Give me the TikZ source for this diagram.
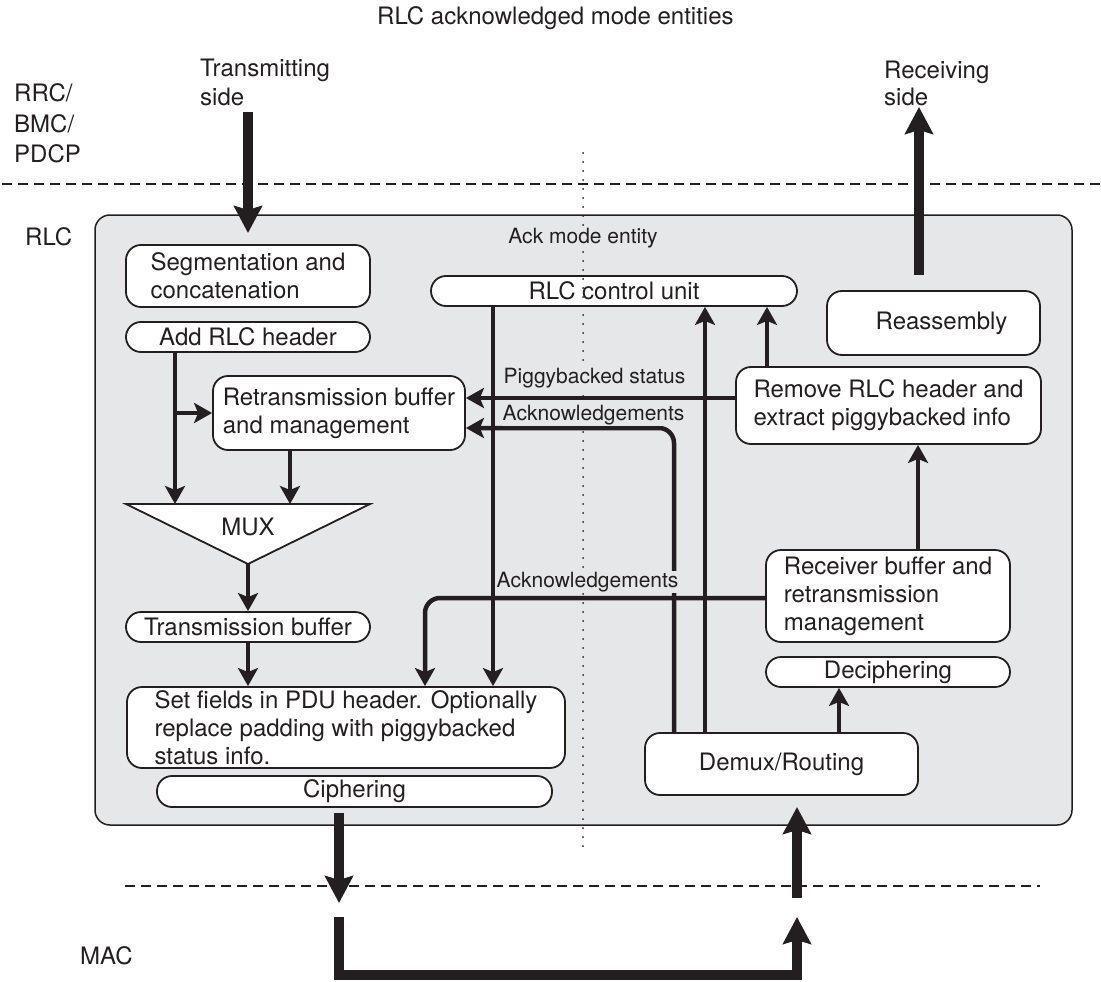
\documentclass[tikz,border=0pt]{standalone}
\usepackage{fontspec}
\setmainfont{TeX Gyre Heros}
\usetikzlibrary{arrows.meta}
\definecolor{ink}{HTML}{231F20}
\definecolor{panel}{HTML}{E6E7E8}
\begin{document}
\begin{tikzpicture}[x=1pt,y=-1pt,
  every node/.style={font=\fontsize{24}{28}\selectfont, text=ink},
  box/.style={draw=ink, line width=1.8pt, fill=white, rounded corners=15pt, align=left, inner sep=0pt},
  conn/.style={draw=ink, line width=4.5pt, -{Stealth[length=18pt,width=20pt,inset=4pt]}},
  bigarrow/.style={draw=ink, line width=10pt, line join=miter, -{Stealth[length=27pt,width=28pt,inset=4pt]}},
  lbl/.style={font=\fontsize{21}{25}\selectfont, fill=panel, inner xsep=0.5pt, inner ysep=1pt},
  outer/.style={anchor=base west, inner sep=0pt},
  layerline/.style={draw=ink, line width=1.5pt, dash pattern=on 10pt off 6pt},
]
\useasboundingbox (0,0) rectangle (1101,982);

% layer boundaries
\draw[layerline] (2,184) -- (1101,184);
\draw[layerline] (125,886) -- (1040,886);

% layer and side captions
\node[outer] (title) at (377,25) {RLC acknowledged mode entities};
\node[outer] (tx1) at (200,77) {Transmitting};
\node[outer] (tx2) at (200,106) {side};
\node[outer] (rx1) at (884,78) {Receiving};
\node[outer] (rx2) at (884,106) {side};
\node[outer] (upper1) at (14,102) {RRC/};
\node[outer] (upper2) at (14,132) {BMC/};
\node[outer] (upper3) at (14,162) {PDCP};
\node[outer] (rlclayer) at (25,245) {RLC};
\node[outer] (maclayer) at (80,964) {MAC};

% acknowledged mode entity panel
\node[draw=ink, line width=1.5pt, fill=panel, rounded corners=15pt,
      minimum width=977pt, minimum height=610pt, inner sep=0pt] (rlc) at (583.5,520) {};

% transmitting side blocks
\node[box, minimum width=244pt, minimum height=62pt] (seg) at (248,276) {Segmentation and\\concatenation};
\node[box, minimum width=244pt, minimum height=30pt] (addhdr) at (248,337) {Add RLC header};
\node[box, minimum width=252pt, minimum height=74pt] (retx) at (339,413) {Retransmission buffer\\and management};
\draw[draw=ink, line width=1.8pt, fill=white] (126,504) -- (370,504) -- (248,564) -- cycle;
\node (mux) at (248,527) {MUX};
\node[box, minimum width=244pt, minimum height=30pt] (txbuf) at (248,627) {Transmission buffer};
\node[box, minimum width=438pt, minimum height=81pt] (setf) at (346,727.5)
  {Set fields in PDU header. Optionally\\replace padding with piggybacked\\status info.};
\node[box, minimum width=395pt, minimum height=31pt] (ciph) at (354.5,791.5) {Ciphering};

% control and receiving side blocks
\node[box, minimum width=366pt, minimum height=30pt] (ctrl) at (614,291) {RLC control unit};
\node[box, minimum width=213pt, minimum height=64pt] (reasm) at (933.5,323) {\hspace*{16pt}Reassembly};
\node[box, minimum width=305pt, minimum height=77pt] (remove) at (888.5,405.5) {Remove RLC header and\\extract piggybacked info};
\node[box, minimum width=244pt, minimum height=92pt] (recv) at (888,596) {Receiver buffer and\\retransmission\\management};
\node[box, minimum width=244pt, minimum height=30pt] (deciph) at (888,672) {Deciphering};
\node[box, minimum width=273pt, minimum height=62pt] (demux) at (781.5,764) {Demux/Routing};

% divider between the two sides
\draw[ink, line width=2pt, line cap=round, dash pattern=on 0pt off 9pt] (583,153) -- (583,852);

% reference points for the connectors
\coordinate (muxL) at (175,504);
\coordinate (muxR) at (290,504);
\coordinate (muxTip) at (248,564);
\coordinate (fork) at (175,413);
\coordinate (xCtl) at (493,0);
\coordinate (yPig) at (0,398);
\coordinate (yAck) at (0,428);
\coordinate (ackBend) at (674,428);
\coordinate (xDmx) at (705,0);
\coordinate (xRem) at (767,0);
\coordinate (yAck2) at (0,598);
\coordinate (ackBend2) at (425,598);
\coordinate (xRcv) at (918,0);
\coordinate (xDec) at (839,0);

% internal connectors
\draw[conn] (addhdr.south -| muxL) -- (muxL);
\draw[conn] (fork) -- (retx.west);
\draw[conn] (retx.south -| muxR) -- (muxR);
\draw[conn] (muxTip) -- (txbuf.north);
\draw[conn] (txbuf.south) -- (setf.north -| txbuf.south);
\draw[conn] (ctrl.south -| xCtl) -- (setf.north -| xCtl);
\draw[conn] (remove.west |- yPig) -- (retx.east |- yPig);
\draw[conn, rounded corners=15pt] (demux.north -| ackBend) -- (ackBend) -- (retx.east |- yAck);
\draw[conn] (demux.north -| xDmx) -- (ctrl.south -| xDmx);
\draw[conn] (remove.north -| xRem) -- (ctrl.south -| xRem);
\draw[conn, rounded corners=15pt] (recv.west |- yAck2) -- (ackBend2) -- (setf.north -| ackBend2);
\draw[conn] (recv.north -| xRcv) -- (remove.south -| xRcv);
\draw[conn] (demux.north -| xDec) -- (deciph.south -| xDec);

% data flow to and from the neighbouring layers
\coordinate (txIn) at (248,112);
\coordinate (txEnd) at (248,233);
\coordinate (rxStart) at (919,275);
\coordinate (rxOut) at (919,107);
\coordinate (downA) at (339,813);
\coordinate (downB) at (339,903);
\coordinate (upA) at (797,898);
\coordinate (upB) at (797,807);
\coordinate (loopA) at (339,917);
\coordinate (loopB) at (339,975);
\coordinate (loopC) at (797,975);
\coordinate (loopD) at (797,917);
\draw[bigarrow] (txIn) -- (txEnd);
\draw[bigarrow] (rxStart) -- (rxOut);
\draw[bigarrow] (downA) -- (downB);
\draw[bigarrow] (upA) -- (upB);
\draw[bigarrow] (loopA) -- (loopB) -- (loopC) -- (loopD);

% connector labels
\node[lbl, anchor=base] (entity) at (583,243) {Ack mode entity};
\node[lbl, anchor=base west] (pigLbl) at (503,383) {Piggybacked status};
\node[lbl, anchor=base west] (ackLbl) at (502,420) {Acknowledgements};
\node[lbl, anchor=base west] (ackLbl2) at (496,587) {Acknowledgements};
\end{tikzpicture}
\end{document}
